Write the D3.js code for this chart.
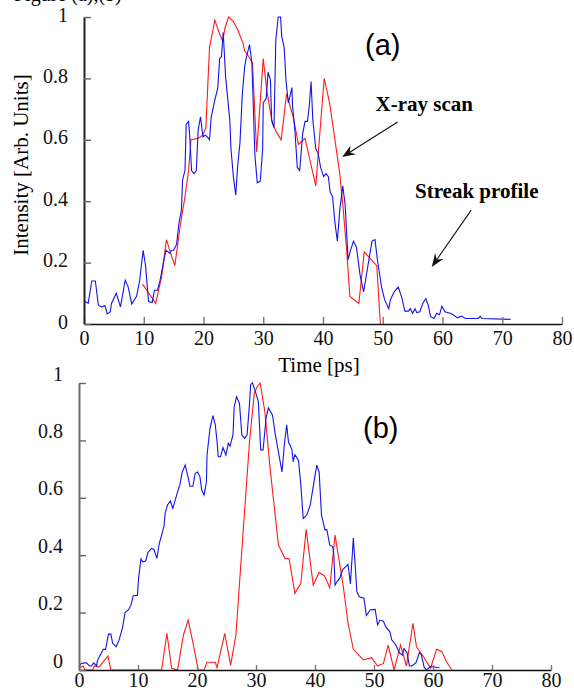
<!DOCTYPE html>
<html>
<head>
<meta charset="utf-8">
<script src="https://cdn.jsdelivr.net/npm/d3@7"></script>
<style>
  body { margin: 0; background: #fff; }
  svg { display: block; font-family: 'Liberation Serif', 'Times New Roman', serif; }
</style>
</head>
<body>
<div id="chart"></div>
<script>
// Intensity profiles: [time in ps, normalised intensity]
var xTicks = [0, 10, 20, 30, 40, 50, 60, 70, 80]
var yTicks = [0, 0.2, 0.4, 0.6, 0.8, 1]

// panel (a) - streak camera profile (blue)
var streakA = [[0, 0.076], [0.7, 0.067], [1.3, 0.14], [1.9, 0.14], [2.4, 0.062], [2.9, 0.055], [3.5, 0.06], [3.9, 0.033], [4.4, 0.04], [4.6, 0.067],
  [5.4, 0.1], [6.1, 0.056], [6.9, 0.143], [7.4, 0.12], [8.0, 0.065], [8.8, 0.09], [9.3, 0.14], [9.9, 0.24], [10.3, 0.19], [10.8, 0.073],
  [11.4, 0.07], [11.8, 0.11], [12.3, 0.11], [12.7, 0.14], [13.4, 0.21], [13.7, 0.24], [14.4, 0.23], [14.6, 0.24], [15.0, 0.24], [15.5, 0.26],
  [15.9, 0.33], [16.3, 0.37], [16.5, 0.47], [16.9, 0.5], [17.1, 0.65], [17.5, 0.66], [17.7, 0.61], [18.0, 0.5], [18.4, 0.49], [18.8, 0.5],
  [19.1, 0.63], [19.5, 0.675], [19.9, 0.61], [20.3, 0.615], [20.6, 0.61], [21.0, 0.6], [21.3, 0.675], [21.9, 0.73], [22.4, 0.77], [22.7, 0.865],
  [23.0, 0.87], [23.3, 0.95], [23.7, 0.805], [24.4, 0.665], [24.6, 0.57], [25.0, 0.48], [25.4, 0.42], [25.7, 0.51], [26.1, 0.59], [26.5, 0.75],
  [26.9, 0.84], [27.2, 0.87], [27.7, 0.91], [28.1, 0.85], [28.6, 0.55], [29.0, 0.46], [29.5, 0.465], [29.9, 0.57], [30.0, 0.72], [30.5, 0.735],
  [30.8, 0.82], [31.2, 0.795], [31.4, 0.665], [31.8, 0.64], [32.1, 0.925], [32.5, 1.0], [32.9, 1.0], [33.1, 0.935], [33.5, 0.9], [33.8, 0.795],
  [34.2, 0.72], [34.5, 0.745], [34.8, 0.77], [34.9, 0.71], [35.3, 0.63], [35.7, 0.51], [36.1, 0.5], [36.6, 0.62], [37.0, 0.66], [37.4, 0.66],
  [37.7, 0.71], [38.0, 0.79], [38.3, 0.665], [38.8, 0.57], [39.2, 0.555], [39.6, 0.51], [40.1, 0.48], [40.5, 0.49], [40.9, 0.48], [41.2, 0.43],
  [41.6, 0.415], [42.0, 0.33], [42.4, 0.27], [42.8, 0.37], [43.3, 0.45], [43.7, 0.39], [44.2, 0.21], [44.6, 0.24], [45.1, 0.27], [45.6, 0.25],
  [46.2, 0.16], [46.8, 0.105], [47.6, 0.2], [48.2, 0.27], [48.7, 0.275], [49.1, 0.21], [49.8, 0.12], [50.3, 0.08], [51.0, 0.05], [51.3, 0.08],
  [51.9, 0.105], [52.6, 0.12], [53.2, 0.085], [53.7, 0.042], [54.3, 0.042], [54.6, 0.05], [55.0, 0.035], [55.4, 0.05], [55.7, 0.037], [56.2, 0.04],
  [56.7, 0.067], [57.2, 0.083], [57.6, 0.062], [58.0, 0.024], [58.6, 0.018], [59.0, 0.035], [59.5, 0.03], [59.9, 0.058], [60.4, 0.04], [61.3, 0.035],
  [61.8, 0.03], [62.5, 0.02], [63.2, 0.026], [63.8, 0.018], [66.0, 0.018], [66.3, 0.025], [66.6, 0.018], [71.4, 0.015]]

// panel (a) - x-ray scan (red)
var xrayA = [[9.8, 0.13], [12.0, 0.067], [13.0, 0.155], [13.8, 0.275], [14.5, 0.23], [15.2, 0.19], [16.1, 0.32], [16.9, 0.415], [17.5, 0.5], [17.9, 0.6],
  [19.1, 0.605], [19.9, 0.615], [20.4, 0.64], [21.0, 0.9], [21.9, 0.99], [22.5, 0.955], [23.2, 0.92], [23.6, 0.965], [24.2, 1.0], [25.0, 0.985],
  [25.8, 0.955], [26.6, 0.915], [26.9, 0.89], [27.8, 0.865], [28.2, 0.85], [28.9, 0.56], [30.0, 0.865], [30.6, 0.76], [31.5, 0.655], [32.2, 0.625],
  [33.0, 0.6], [33.9, 0.75], [35.0, 0.675], [35.9, 0.585], [37.0, 0.605], [37.8, 0.535], [38.8, 0.45], [39.2, 0.555], [40.2, 0.8], [41.1, 0.72],
  [42.0, 0.6], [42.8, 0.49], [43.4, 0.37], [44.0, 0.23], [44.5, 0.09], [46.0, 0.067], [46.9, 0.235], [49.0, 0.19], [49.6, 0.0]]

// panel (b) - streak camera profile (blue)
var streakB = [[0, 0.014], [0.45, 0.023], [1.3, 0.025], [1.75, 0.014], [2.1, 0.014], [2.5, 0.025], [3.0, 0.014], [3.1, 0.032], [3.6, 0.052], [4.1, 0.072],
  [4.5, 0.072], [5.0, 0.125], [5.4, 0.125], [5.7, 0.093], [6.3, 0.081], [6.8, 0.105], [7.4, 0.149], [7.8, 0.2], [8.4, 0.21], [8.8, 0.226],
  [9.2, 0.259], [9.9, 0.26], [10.1, 0.32], [10.5, 0.387], [10.8, 0.377], [11.3, 0.38], [11.7, 0.41], [12.3, 0.424], [12.7, 0.42], [13.2, 0.389],
  [13.6, 0.44], [14.0, 0.47], [14.4, 0.5], [14.6, 0.546], [15.0, 0.575], [15.5, 0.589], [15.9, 0.563], [16.3, 0.592], [16.8, 0.627], [17.1, 0.645],
  [17.5, 0.69], [18.0, 0.714], [18.4, 0.68], [18.8, 0.64], [19.3, 0.64], [19.7, 0.685], [20.1, 0.69], [20.5, 0.673], [20.8, 0.627], [21.2, 0.61],
  [21.6, 0.656], [21.7, 0.749], [22.2, 0.842], [22.7, 0.886], [23.1, 0.854], [23.4, 0.795], [23.6, 0.743], [24.0, 0.743], [24.4, 0.775], [24.9, 0.749],
  [25.3, 0.79], [25.6, 0.78], [26.1, 0.819], [26.3, 0.917], [26.7, 0.952], [27.2, 0.929], [27.6, 0.819], [28.1, 0.807], [28.5, 0.82], [28.9, 0.929],
  [29.1, 0.995], [29.4, 1.0], [29.8, 0.976], [30.4, 0.935], [30.8, 0.767], [31.2, 0.767], [31.7, 0.877], [32.1, 0.914], [32.8, 0.888], [33.2, 0.83],
  [33.8, 0.76], [34.4, 0.69], [34.8, 0.784], [35.2, 0.854], [35.5, 0.795], [36.1, 0.767], [36.3, 0.726], [36.6, 0.75], [37.2, 0.73], [37.6, 0.645],
  [38.0, 0.528], [38.6, 0.54], [39.2, 0.575], [39.7, 0.64], [40.3, 0.714], [40.7, 0.69], [41.1, 0.54], [41.5, 0.505], [41.7, 0.488], [42.0, 0.49],
  [42.5, 0.435], [43.0, 0.43], [43.2, 0.4], [43.4, 0.296], [43.8, 0.31], [44.2, 0.32], [44.7, 0.35], [45.6, 0.368], [46.0, 0.3], [46.5, 0.46],
  [47.1, 0.273], [47.5, 0.255], [48.3, 0.25], [48.7, 0.19], [49.4, 0.21], [50.2, 0.211], [50.6, 0.157], [51.0, 0.174], [51.6, 0.17], [52.0, 0.15],
  [52.7, 0.133], [53.0, 0.105], [53.7, 0.087], [54.3, 0.06], [54.8, 0.052], [55.1, 0.075], [55.6, 0.06], [56.0, 0.014], [56.4, 0.014], [57.1, 0.025],
  [57.7, 0.06], [58.0, 0.055], [58.5, 0.01], [58.9, 0.0], [59.6, 0.012], [61.1, 0.008]]

// panel (b) - x-ray scan (red)
var xrayB = [[0, 0.006], [0.7, 0.014], [1.0, 0], [2.3, 0], [2.6, 0.014], [3.4, 0.01], [4.9, 0.049], [5.4, 0], [14.0, 0], [14.9, 0.128],
  [15.7, 0.006], [16.7, 0], [17.7, 0.122], [18.5, 0.174], [19.4, 0.087], [20.2, 0], [21.2, 0], [21.7, 0.027], [23.1, 0.027], [23.4, 0.008],
  [24.7, 0.128], [25.7, 0.017], [26.6, 0.122], [27.3, 0.331], [28.1, 0.563], [28.9, 0.795], [29.7, 0.964], [30.2, 0.987], [30.7, 1.0], [31.5, 0.9],
  [32.4, 0.7], [33.8, 0.436], [34.9, 0.389], [35.6, 0.388], [36.6, 0.267], [37.6, 0.302], [38.5, 0.49], [39.7, 0.296], [40.7, 0.34], [41.6, 0.328],
  [42.5, 0.287], [43.4, 0.47], [43.9, 0.406], [44.8, 0.29], [45.6, 0.163], [46.5, 0.072], [48.2, 0.035], [49.6, 0.043], [50.6, 0.014], [51.6, 0.023],
  [52.4, 0.087], [53.4, 0], [54.5, 0.087], [55.5, 0.014], [56.6, 0.163], [57.2, 0.081], [58.3, 0.049], [58.9, 0.029], [59.6, 0.006], [60.6, 0.072],
  [61.5, 0.064], [62.3, 0.029], [63.2, 0]]

var width = 574
var height = 690
var serif = "'Liberation Serif', 'Times New Roman', serif"

var svg = d3.select('#chart').append('svg')
  .attr('width', width)
  .attr('height', height)

svg.append('rect').attr('width', width).attr('height', height).attr('fill', '#fff')

// caption line of the source page, cut off at the top edge
svg.append('text')
  .attr('x', 14).attr('y', 1)
  .attr('font-family', serif)
  .attr('font-size', 20)
  .text('Figure (a),(b)')

// Panel layout (pixel frame for each plot)
var panels = [
  { label: '(a)', streak: streakA, xray: xrayA, xRange: [84, 562], yRange: [324, 17], yAxisColor: '#222', yDy: 4, xPad: 7, xTick: 7, labelPos: [365, 55] },
  { label: '(b)', streak: streakB, xray: xrayB, xRange: [79, 551], yRange: [670, 383], yAxisColor: '#6e6e6e', yDy: -3, xPad: 3, xTick: 5, labelPos: [363, 438] }
]

var scales = panels.map(drawPanel)

function drawPanel (p) {
  var x = d3.scaleLinear().domain([0, 80]).range(p.xRange)
  var y = d3.scaleLinear().domain([0, 1]).range(p.yRange)
  var g = svg.append('g')

  var line = d3.line()
    .x(d => x(d[0]))
    .y(d => y(d[1]))

  g.append('path')
    .datum(p.xray)
    .attr('fill', 'none')
    .attr('stroke', '#ff1a1a')
    .attr('stroke-width', 1.1)
    .attr('d', line)

  g.append('path')
    .datum(p.streak)
    .attr('fill', 'none')
    .attr('stroke', '#1414e6')
    .attr('stroke-width', 1.1)
    .attr('d', line)

  // x axis, ticks pointing inward
  var xAxis = g.append('g')
    .attr('transform', `translate(0,${p.yRange[0]})`)
    .call(d3.axisBottom(x).tickValues(xTicks).tickSize(-p.xTick).tickSizeOuter(0).tickPadding(p.xPad).tickFormat(d3.format('d')))
  xAxis.select('.domain').attr('stroke', '#111').attr('stroke-width', 1.6)
  xAxis.selectAll('.tick line').attr('stroke', '#777').attr('stroke-width', 1.4)
  xAxis.selectAll('.tick text')
    .attr('font-family', serif)
    .attr('font-size', 20)
    .attr('fill', '#111')

  // y axis
  var yAxis = g.append('g')
    .attr('transform', `translate(${p.xRange[0]},0)`)
    .call(d3.axisLeft(y).tickValues(yTicks).tickSize(-7).tickSizeOuter(0).tickPadding(16)
      .tickFormat(d => (d === 0 || d === 1) ? d3.format('d')(d) : d3.format('.1f')(d)))
  yAxis.select('.domain').attr('stroke', p.yAxisColor).attr('stroke-width', 2)
  yAxis.selectAll('.tick line').attr('stroke', '#666').attr('stroke-width', 1.4)
  yAxis.selectAll('.tick text')
    .attr('font-family', serif)
    .attr('font-size', 20)
    .attr('fill', '#111')
    .attr('dy', null)
    .attr('y', p.yDy)

  // panel tag
  svg.append('text')
    .attr('x', p.labelPos[0]).attr('y', p.labelPos[1])
    .attr('font-family', "'Liberation Sans', Arial, sans-serif")
    .attr('font-size', 29)
    .text(p.label)

  return { x: x, y: y }
}

// axis titles for panel (a)
svg.append('text')
  .attr('x', 319).attr('y', 372)
  .attr('text-anchor', 'middle')
  .attr('font-family', serif)
  .attr('font-size', 21)
  .text('Time [ps]')

svg.append('text')
  .attr('transform', 'translate(28,165) rotate(-90)')
  .attr('text-anchor', 'middle')
  .attr('font-family', serif)
  .attr('font-size', 21)
  .text('Intensity [Arb. Units]')

// annotations with arrows (positions in data units of panel (a))
var sa = scales[0]
var notes = [
  { text: 'X-ray scan', at: [48.8, 0.695], from: [52.5, 0.658], to: [43.2, 0.544] },
  { text: 'Streak profile', at: [55.4, 0.41], from: [64.8, 0.371], to: [58.2, 0.186] }
]

notes.forEach(n => {
  svg.append('text')
    .attr('x', sa.x(n.at[0])).attr('y', sa.y(n.at[1]))
    .attr('font-family', serif)
    .attr('font-size', 21)
    .attr('font-weight', 'bold')
    .text(n.text)
  drawArrow(sa.x(n.from[0]), sa.y(n.from[1]), sa.x(n.to[0]), sa.y(n.to[1]))
})

function drawArrow (x1, y1, x2, y2) {
  var ang = Math.atan2(y2 - y1, x2 - x1)
  var len = 13
  var half = 5
  var notch = 9
  var ux = Math.cos(ang)
  var uy = Math.sin(ang)
  var bx = x2 - ux * len
  var by = y2 - uy * len
  var nx = x2 - ux * notch
  var ny = y2 - uy * notch
  svg.append('line')
    .attr('x1', x1).attr('y1', y1).attr('x2', nx).attr('y2', ny)
    .attr('stroke', '#111').attr('stroke-width', 1.1)
  svg.append('path')
    .attr('d', `M${x2},${y2}L${bx - uy * half},${by + ux * half}L${nx},${ny}L${bx + uy * half},${by - ux * half}Z`)
    .attr('fill', '#111')
}
</script>
</body>
</html>
